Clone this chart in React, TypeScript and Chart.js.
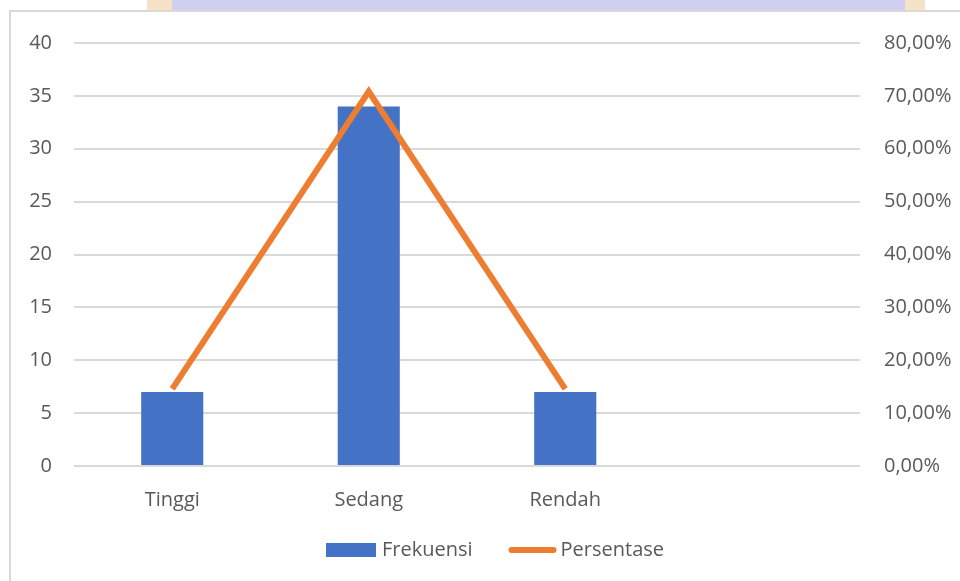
import React, { useEffect, useRef } from "react";
import { Chart, registerables } from "chart.js";

Chart.register(...registerables);

const categories = ["Tinggi", "Sedang", "Rendah", ""];
const frekuensi = [7, 34, 7, null];
const persentase = [14.58, 70.83, 14.58, null];
const leftTicks = [0, 5, 10, 15, 20, 25, 30, 35, 40];
const rightMax = 80;

const FONT = "'Open Sans', 'Noto Sans', sans-serif";
const TEXT = "#595959";
const BLUE = "#4472c4";
const ORANGE = "#ed7d31";
const GRID = "#d9d9d9";

const legendPlugin = {
  id: "customLegend",
  afterDraw(chart: any) {
    const ctx = chart.ctx;
    const ds = chart.data.datasets;
    ctx.save();
    ctx.font = `20px ${FONT}`;
    ctx.textBaseline = "middle";
    ctx.fillStyle = TEXT;
    const barDs = ds.find((d: any) => d.type === "bar");
    const lineDs = ds.find((d: any) => d.type === "line");
    const w1 = ctx.measureText(barDs.label).width;
    const w2 = ctx.measureText(lineDs.label).width;
    const total = 50 + 6 + w1 + 36 + 48 + 4 + w2;
    let x = 495 - total / 2;
    const y = 550;
    ctx.fillStyle = barDs.backgroundColor;
    ctx.fillRect(x, y - 7, 50, 14);
    x += 56;
    ctx.fillStyle = TEXT;
    ctx.fillText(barDs.label, x, y);
    x += w1 + 36;
    ctx.strokeStyle = lineDs.borderColor;
    ctx.lineWidth = 6;
    ctx.lineCap = "round";
    ctx.beginPath();
    ctx.moveTo(x + 3, y);
    ctx.lineTo(x + 45, y);
    ctx.stroke();
    x += 52;
    ctx.fillText(lineDs.label, x, y);
    ctx.restore();
  },
};

export default function App() {
  const ref = useRef<HTMLCanvasElement>(null);

  useEffect(() => {
    if (!ref.current) return;
    const chart = new Chart(ref.current, {
      type: "bar",
      data: {
        labels: categories,
        datasets: [
          {
            type: "line",
            label: "Persentase",
            data: persentase,
            yAxisID: "y2",
            borderColor: ORANGE,
            backgroundColor: ORANGE,
            borderWidth: 6,
            pointRadius: 0,
            borderJoinStyle: "miter",
            borderCapStyle: "butt",
            tension: 0,
            order: 0,
          } as any,
          {
            type: "bar",
            label: "Frekuensi",
            data: frekuensi,
            yAxisID: "y",
            backgroundColor: BLUE,
            categoryPercentage: 1,
            barPercentage: 0.316,
            order: 1,
          } as any,
        ],
      },
      options: {
        responsive: false,
        animation: false,
        layout: { padding: { top: 43, left: 0, right: 0, bottom: 0 } },
        plugins: { legend: { display: false }, tooltip: { enabled: false } },
        scales: {
          x: {
            grid: { display: false },
            border: { display: false },
            ticks: {
              color: TEXT,
              font: { family: FONT, size: 20 },
              padding: 14,
              maxRotation: 0,
            },
            afterFit(scale: any) {
              scale.height = 115;
            },
          },
          y: {
            position: "left",
            min: 0,
            max: leftTicks[leftTicks.length - 1],
            grid: { color: GRID, lineWidth: 2, drawTicks: false },
            border: { display: false },
            afterBuildTicks(scale: any) {
              scale.ticks = leftTicks.map((v) => ({ value: v }));
            },
            ticks: {
              color: TEXT,
              font: { family: FONT, size: 20 },
              padding: 22,
            },
            afterFit(scale: any) {
              scale.width = 74;
            },
          },
          y2: {
            position: "right",
            min: 0,
            max: rightMax,
            grid: { display: false },
            border: { display: false },
            ticks: {
              stepSize: 10,
              color: TEXT,
              font: { family: FONT, size: 20 },
              padding: 16,
              callback: (v: any) => `${Number(v).toFixed(2).replace(".", ",")}%`,
            },
            afterFit(scale: any) {
              scale.width = 100;
            },
          },
        },
      },
      plugins: [legendPlugin],
    });
    return () => chart.destroy();
  }, []);

  return (
    <div
      style={{
        position: "fixed",
        left: 0,
        top: 0,
        width: 960,
        height: 581,
        background: "#ffffff",
        overflow: "hidden",
      }}
    >
      <div style={{ position: "absolute", left: 147, top: 0, width: 25, height: 11, background: "#f6e2c6" }} />
      <div style={{ position: "absolute", left: 172, top: 0, width: 733, height: 11, background: "#cfd0f1" }} />
      <div style={{ position: "absolute", left: 905, top: 0, width: 20, height: 11, background: "#f6e2c6" }} />
      <div
        style={{
          position: "absolute",
          left: 9,
          top: 10,
          width: 960,
          height: 600,
          borderLeft: "2px solid #d9d9d9",
          borderTop: "2px solid #d9d9d9",
          background: "#ffffff",
        }}
      />
      <canvas
        ref={ref}
        width={960}
        height={581}
        style={{ position: "absolute", left: 0, top: 0, width: 960, height: 581 }}
      />
    </div>
  );
}
